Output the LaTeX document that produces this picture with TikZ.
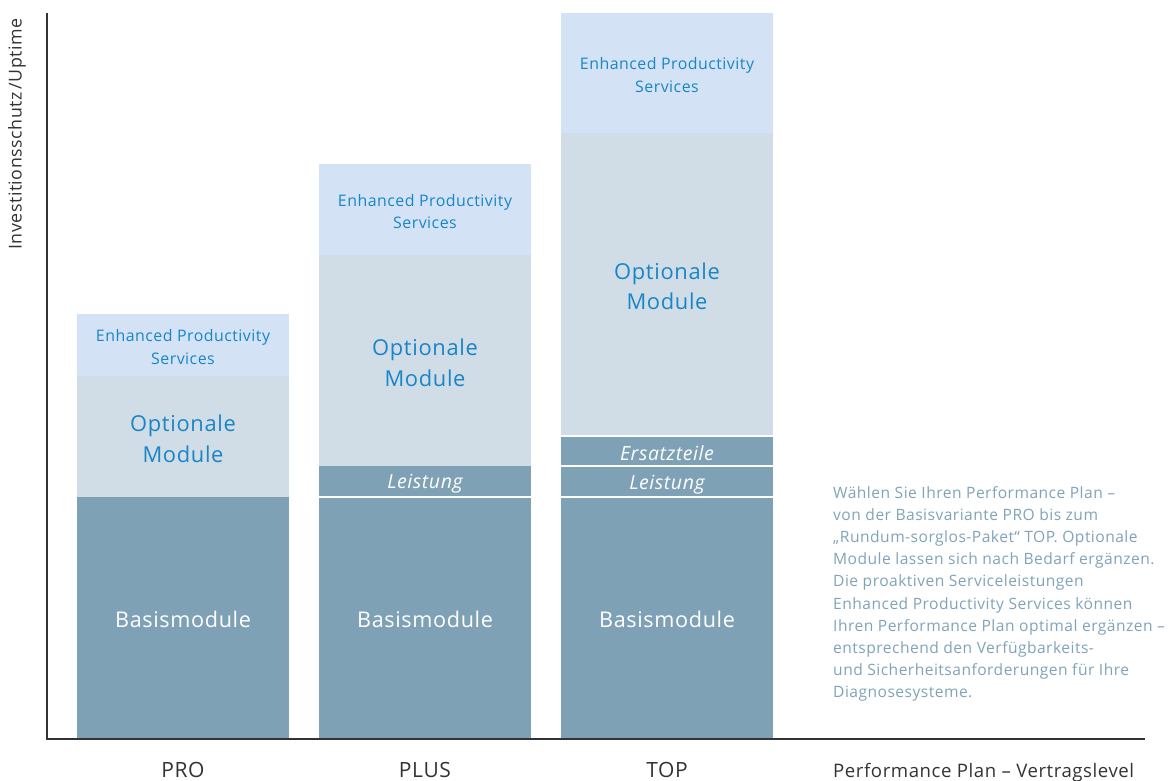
\documentclass[tikz,border=0pt]{standalone}
\usepackage{fontspec}
\setmainfont[LetterSpace=3]{Open Sans}
\definecolor{basis}{HTML}{7FA1B5}
\definecolor{opt}{HTML}{D0DDE7}
\definecolor{eps}{HTML}{D3E3F5}
\definecolor{bluetxt}{HTML}{1A85C7}
\definecolor{paratxt}{HTML}{7FA3BA}
\definecolor{dark}{HTML}{333333}
\begin{document}
\begin{tikzpicture}[x=1pt,y=-1pt,
  seg/.style={anchor=north west, inner sep=0pt, outer sep=0pt, minimum width=212pt},
  lbl/.style={inner sep=0pt, align=center},
  epsbox/.style={seg, fill=eps},
  optbox/.style={seg, fill=opt},
  basbox/.style={seg, fill=basis},
  epst/.style={lbl, text=bluetxt, yshift=-2pt, font=\fontsize{15.9}{22.5}\selectfont},
  optt/.style={lbl, text=bluetxt, yshift=-2.5pt, font=\fontsize{21.9}{30.5}\selectfont},
  bast/.style={lbl, text=white, yshift=-2pt, font=\fontsize{21.6}{26}\selectfont},
  smallt/.style={lbl, text=white, yshift=-3pt, font=\fontsize{19.5}{22}\selectfont\itshape},
  axis/.style={draw=dark, line width=1.4pt},
  axlabel/.style={text=dark, inner sep=0pt, font=\fontsize{21}{24}\selectfont},
  para/.style={anchor=north west, inner sep=0pt, text=paratxt, align=left, font=\fontsize{15.6}{22.2}\selectfont}
]
\useasboundingbox (0,0) rectangle (1173,780);
% PRO
\node[epsbox, minimum height=62pt, label={[epst]center:{Enhanced Productivity\\Services}}] (proE) at (77,314) {};
\node[optbox, minimum height=121pt, label={[optt]center:{Optionale\\Module}}] (proO) at (77,376) {};
\node[basbox, minimum height=241pt, label={[bast]center:Basismodule}] (proB) at (77,497) {};
% PLUS
\node[epsbox, minimum height=91pt, label={[epst]center:{Enhanced Productivity\\Services}}] (plusE) at (319,164) {};
\node[optbox, minimum height=211pt, label={[optt]center:{Optionale\\Module}}] (plusO) at (319,255) {};
\node[basbox, minimum height=29.5pt, label={[smallt]center:Leistung}] (plusL) at (319,466) {};
\node[basbox, minimum height=240.5pt, label={[bast]center:Basismodule}] (plusB) at (319,497.5) {};
% TOP
\node[epsbox, minimum height=120pt, label={[epst]center:{Enhanced Productivity\\Services}}] (topE) at (561,13) {};
\node[optbox, minimum height=302pt, label={[optt]center:{Optionale\\Module}}] (topO) at (561,133) {};
\node[basbox, minimum height=28pt, label={[smallt, yshift=1pt]center:Ersatzteile}] (topS) at (561,437) {};
\node[basbox, minimum height=28.5pt, label={[smallt]center:Leistung}] (topL) at (561,467) {};
\node[basbox, minimum height=240.5pt, label={[bast]center:Basismodule}] (topB) at (561,497.5) {};
% axes
\coordinate (ytop) at (47,13);
\coordinate (orig) at (47,739);
\coordinate (xend) at (1145,739);
\draw[axis] (ytop) -- (orig) -- (xend);
\node[axlabel, rotate=90, font=\fontsize{17.8}{22}\selectfont] (ylab) at (17,134) {Investitionsschutz\,/Uptime};
\node[axlabel, anchor=base] (lpro) at (183,777) {PRO};
\node[axlabel, anchor=base] (lplus) at (425,777) {PLUS};
\node[axlabel, anchor=base] (ltop) at (667,777) {TOP};
\node[axlabel, anchor=base west, font=\fontsize{18.6}{22}\selectfont] (lx) at (833,777) {Performance Plan – Vertragslevel};
\node[para] (text) at (833,486) {Wählen Sie Ihren Performance Plan –\\von der Basisvariante PRO bis zum\\„Rundum-sorglos-Paket“ TOP. Optionale\\Module lassen sich nach Bedarf ergänzen.\\Die proaktiven Serviceleistungen\\Enhanced Productivity Services können\\Ihren Performance Plan optimal ergänzen –\\entsprechend den Verfügbarkeits-\\und Sicherheitsanforderungen für Ihre\\Diagnosesysteme.};
\end{tikzpicture}
\end{document}
